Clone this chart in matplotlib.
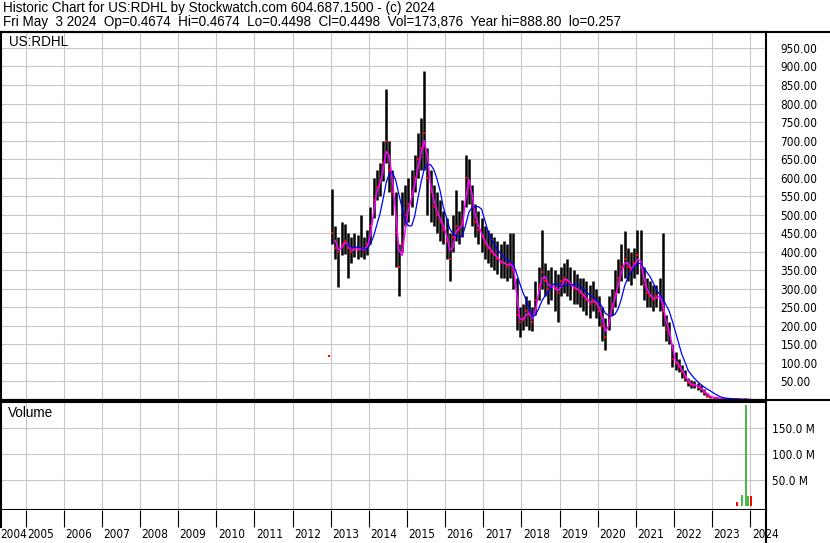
import numpy as np
import pandas as pd
import matplotlib
matplotlib.use('Agg')
import matplotlib.pyplot as plt
import matplotlib.dates as mdates
import matplotlib.transforms as mtransforms
from matplotlib import font_manager
from matplotlib.lines import Line2D

plt.rcParams['font.family'] = ['Liberation Sans', 'DejaVu Sans']

# the axis labels of the original use a narrow face
_fonts = font_manager.fontManager.ttflist
_names = {f.name for f in _fonts}
if 'Liberation Sans Narrow' in _names:
    axis_font = dict(family=['Liberation Sans Narrow', 'DejaVu Sans'], size=10)
elif any(f.name == 'DejaVu Sans' and f.stretch == 'condensed' for f in _fonts):
    axis_font = dict(family=['DejaVu Sans'], stretch='condensed', size=8.5)
else:
    axis_font = dict(family=['Liberation Sans', 'DejaVu Sans'], size=8.5)

# header text
header1 = "Historic Chart for US:RDHL by Stockwatch.com 604.687.1500 - (c) 2024"
header2 = ("Fri May  3 2024  Op=0.4674  Hi=0.4674  Lo=0.4498  Cl=0.4498  "
           "Vol=173,876  Year hi=888.80  lo=0.257")
symbol = "US:RDHL"

# monthly price bars, Jan 2013 .. May 2024
months = pd.period_range('2013-01', '2024-05', freq='M')
close = [
    450, 410, 400, 420, 430, 410, 400, 410, 405, 410, 405, 420,   # 2013
    470, 540, 575, 590, 640, 700, 620, 560, 450, 360, 420, 500,   # 2014
    530, 560, 600, 650, 680, 720, 600, 560, 520, 500, 480, 460,   # 2015
    430, 380, 440, 470, 460, 480, 600, 590, 520, 480, 460, 440,   # 2016
    420, 410, 400, 390, 380, 370, 370, 360, 370, 350, 230, 210,   # 2017
    220, 240, 230, 210, 270, 310, 345, 320, 300, 310, 300, 290,   # 2018
    320, 330, 320, 310, 300, 300, 290, 280, 270, 260, 270, 260,   # 2019
    240, 200, 170, 230, 260, 290, 330, 360, 380, 360, 350, 370,   # 2020
    390, 360, 310, 290, 280, 270, 280, 280, 240, 190, 180, 110,   # 2021
    100, 90, 75, 60, 45, 40, 40, 35, 30, 20, 12, 8,               # 2022
    6, 5, 4, 3.5, 3, 2.5, 2, 1.8, 1.5, 1.2, 1.0, 0.8,             # 2023
    0.7, 0.6, 0.55, 0.5, 0.45,                                    # 2024
]
high = [
    570, 470, 440, 480, 475, 450, 440, 450, 445, 500, 440, 460,
    520, 600, 620, 640, 700, 840, 700, 620, 560, 420, 560, 580,
    600, 620, 660, 720, 760, 889, 680, 620, 580, 560, 540, 510,
    490, 450, 500, 566, 510, 540, 660, 650, 580, 530, 510, 490,
    470, 460, 450, 440, 430, 420, 430, 420, 450, 450, 330, 250,
    260, 280, 270, 250, 320, 360, 460, 370, 350, 360, 350, 340,
    360, 370, 380, 360, 350, 340, 330, 330, 320, 310, 320, 300,
    280, 250, 220, 280, 300, 350, 380, 420, 455, 410, 400, 410,
    460, 460, 360, 330, 320, 310, 310, 330, 450, 230, 210, 150,
    130, 110, 95, 80, 60, 55, 50, 45, 40, 30, 18, 12,
    9, 7, 6, 5, 4.5, 4, 3, 2.8, 2.5, 2, 5, 1.5,
    1.2, 1.0, 0.9, 0.8, 0.47,
]
low = [
    420, 380, 305, 390, 395, 328, 370, 385, 380, 385, 380, 390,
    420, 490, 540, 550, 590, 640, 560, 500, 360, 280, 400, 470,
    480, 520, 560, 600, 620, 620, 500, 480, 470, 450, 430, 420,
    380, 320, 400, 430, 420, 440, 520, 530, 470, 440, 420, 400,
    380, 370, 360, 350, 340, 330, 330, 320, 330, 300, 190, 170,
    190, 200, 190, 185, 230, 270, 300, 280, 260, 270, 240, 210,
    280, 290, 280, 270, 260, 260, 250, 240, 230, 220, 240, 220,
    200, 160, 135, 190, 230, 250, 290, 320, 330, 320, 310, 330,
    340, 310, 270, 250, 250, 240, 250, 240, 200, 160, 150, 90,
    80, 75, 60, 50, 38, 32, 32, 28, 22, 14, 8, 5,
    4, 3.5, 3, 2.5, 2, 1.8, 1.5, 1.3, 1.1, 0.9, 0.7, 0.6,
    0.5, 0.45, 0.42, 0.4, 0.4,
]
stray_date = ['2012-12-20']
stray_close = [120]

# volume spikes at the end of the series
vol_dates = ['2022-10-05', '2023-01-26', '2023-07-09', '2023-08-28', '2023-10-10',
             '2023-11-17', '2023-12-06', '2024-01-08', '2024-02-14', '2024-03-04']
vol_values = [0.6e6, 0.6e6, 0.8e6, 9e6, 21e6, 193e6, 19e6, 19e6, 0.8e6, 0.8e6]
vol_colors = ['g', 'g', 'g', 'r', 'g', 'g', 'g', 'r', 'g', 'g']

years = list(range(2004, 2025))
price_ticks = list(range(50, 1000, 50))
vol_ticks = [50e6, 100e6, 150e6]

# ---------------------------------------------------------------
W, H = 830, 543
fig = plt.figure(figsize=(W / 100, H / 100), dpi=100)


def fx(px):
    return px / W


def fy(py):
    return 1 - py / H


grid_c = '#c8c8c8'
green = '#4cb84c'
lw_frame = 1.5
xmin, xmax = pd.Timestamp('2004-05-11'), pd.Timestamp('2024-05-30')

dates = months.to_timestamp() + pd.Timedelta(days=14)
s = pd.Series(close, index=dates)
ma_short = s.rolling(2).mean()
ma_long = s.rolling(6).mean()

# price panel
ax_p = fig.add_axes([fx(1), fy(400), fx(766) - fx(1), fy(32) - fy(400)])
ax_p.vlines(dates, low, high, color='black', lw=1.8)
ax_p.plot(dates, close, 's', color='red', ms=1.6, mew=0)
ax_p.plot(pd.to_datetime(stray_date), stray_close, 's', color='red', ms=1.6, mew=0)
ax_p.plot(dates, ma_short, color='#ff00ff', lw=1.1)
ax_p.plot(dates, ma_long, color='#0000ff', lw=0.9)
ax_p.set_ylim(0, 993)
ax_p.set_yticks(price_ticks)
ax_p.set_yticklabels([f"{v:.2f}" for v in price_ticks], **axis_font)

# volume panel
ax_v = fig.add_axes([fx(1), fy(510), fx(766) - fx(1), fy(402) - fy(510)])
ax_v.bar(pd.to_datetime(vol_dates), vol_values, width=18,
         color=[green if c == 'g' else 'red' for c in vol_colors])
ax_v.set_ylim(-7e6, 199e6)
ax_v.set_yticks(vol_ticks)
ax_v.set_yticklabels([f"{v / 1e6:.1f} M" for v in vol_ticks], **axis_font)

for ax, pad in ((ax_p, 10.5), (ax_v, 4.5)):
    ax.set_xlim(xmin, xmax)
    ax.xaxis.set_major_locator(mdates.YearLocator())
    ax.tick_params(axis='x', length=0, labelbottom=False)
    ax.yaxis.tick_right()
    ax.tick_params(axis='y', length=0, pad=pad)
    ax.grid(True, color=grid_c, lw=0.8)
    ax.set_axisbelow(True)
    for sp in ax.spines.values():
        sp.set_linewidth(lw_frame)

# year strip
ax_x = fig.add_axes([fx(1), 0, fx(766) - fx(1), fy(510)])
ax_x.set_xlim(xmin, xmax)
ax_x.set_ylim(0, 1)
year_starts = pd.to_datetime([f"{y}-01-01" for y in years])
ax_x.vlines(year_starts, 0.485, 1, color='black', lw=0.8)
off = mtransforms.offset_copy(ax_x.transData, fig=fig, x=1.5, y=0, units='dots')
edge = mtransforms.blended_transform_factory(fig.transFigure, ax_x.transAxes)
for d, y in zip(year_starts, years):
    if d < xmin:
        # first year starts left of the frame: pin its label to the edge
        ax_x.text(0, 0.25, str(y), transform=edge, ha='left', va='center',
                  clip_on=False, **axis_font)
    else:
        ax_x.text(d, 0.25, str(y), transform=off, ha='left', va='center',
                  clip_on=False, **axis_font)
ax_x.set_xticks([])
ax_x.set_yticks([])
for k in ('top', 'bottom'):
    ax_x.spines[k].set_visible(False)
ax_x.spines['left'].set_bounds(0.485, 1)
ax_x.spines['left'].set_linewidth(lw_frame)
ax_x.spines['right'].set_linewidth(lw_frame)

# full-width rules
for py in (32, 400):
    fig.add_artist(Line2D([0, 1], [fy(py), fy(py)], color='black', lw=lw_frame))

fig.text(fx(3), fy(8), header1, ha='left', va='center', fontsize=9.75)
fig.text(fx(3), fy(22), header2, ha='left', va='center', fontsize=9.75)
fig.text(fx(9), fy(42), symbol, ha='left', va='center', fontsize=9.75)
fig.text(fx(8), fy(413), "Volume", ha='left', va='center', fontsize=9.75)

fig.savefig('out.png', dpi=100)
